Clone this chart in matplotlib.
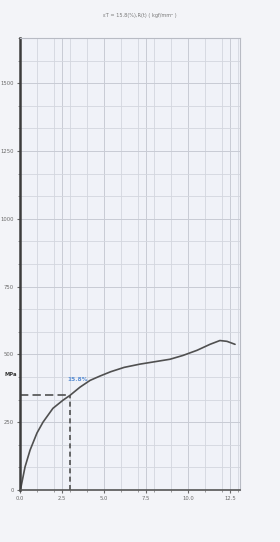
"""Stress-strain curve from a scanned tensile test sheet."""

import numpy as np
import matplotlib as mpl

mpl.use("Agg")
import matplotlib.pyplot as plt
from matplotlib.ticker import MultipleLocator

# strain (%) and stress read from the sheet
strain = [0.0, 0.06, 0.30, 0.60, 1.01, 1.37, 1.96, 2.56, 2.98, 3.57, 4.17,
          4.76, 5.40, 6.20, 7.14, 7.74, 8.93, 9.70, 10.54, 11.31, 11.90,
          12.32, 12.80]
stress = [0, 11, 85, 147, 210, 250, 301, 331, 349, 379, 404,
          420, 436, 452, 464, 470, 482, 496, 515, 537, 551,
          548, 537]

mark_strain = 2.98
mark_stress = 349
mark_label = "15.8%"

x_ticks = [0.0, 2.5, 5.0, 7.5, 10.0, 12.5]
x_tick_labels = ["0.0", "2.5", "5.0", "7.5", "10.0", "12.5"]
y_ticks = [0, 250, 500, 750, 1000, 1250, 1500]
y_tick_labels = ["0", "250", "500", "750", "1000", "1250", "1500"]

title = "εT = 15.8(%),R(t) ( kgf/mm² )"
unit_label = "MPa"

paper = "#f3f4f8"
ink = "#505050"

fig = plt.figure(figsize=(2.8, 5.42), dpi=100, facecolor=paper)
ax = fig.add_axes([0.0714, 0.096, 0.786, 0.834], facecolor="#f0f2f8")

ax.plot(strain, stress, color=ink, linewidth=1.2, solid_capstyle="round")

# offset marker lines
ax.plot([0, mark_strain], [mark_stress, mark_stress], color=ink,
        linewidth=1.2, linestyle=(0, (5, 2.5)))
ax.plot([mark_strain, mark_strain], [0, mark_stress], color=ink,
        linewidth=1.2, linestyle=(0, (3, 2)))
ax.text(mark_strain + 0.45, mark_stress + 50, mark_label, color="#5b8fd4",
        fontsize=4.2, ha="center", va="bottom", fontweight="bold")

ax.set_xlim(0, 13.1)
ax.set_ylim(0, 1666.7)
ax.set_xticks(x_ticks)
ax.set_xticklabels(x_tick_labels)
ax.set_yticks(y_ticks)
ax.set_yticklabels(y_tick_labels)
ax.xaxis.set_minor_locator(MultipleLocator(1.0))
ax.yaxis.set_minor_locator(MultipleLocator(250 / 3))

ax.grid(True, which="major", color="#c8cbd4", linewidth=0.7)
ax.grid(True, which="minor", color="#d3d6de", linewidth=0.6)
ax.set_axisbelow(True)

ax.tick_params(axis="both", which="major", labelsize=3.8, colors="#6a6a6a",
               length=2.5, width=0.8, pad=2)
ax.tick_params(axis="both", which="minor", length=1.5, width=0.5,
               colors="#777777")

ax.spines["left"].set_color("#3c3c3c")
ax.spines["left"].set_linewidth(1.8)
ax.spines["bottom"].set_color("#555555")
ax.spines["bottom"].set_linewidth(1.2)
for side in ["top", "right"]:
    ax.spines[side].set_color("#b8bbc4")
    ax.spines[side].set_linewidth(0.8)

ax.text(-0.15, 425, unit_label, fontsize=3.8, color="#333333",
        ha="right", va="center", fontweight="bold")

fig.text(0.5, 0.972, title, fontsize=3.6, color="#777777",
         ha="center", va="center")

plt.savefig("out.png", dpi=100, facecolor=paper)
